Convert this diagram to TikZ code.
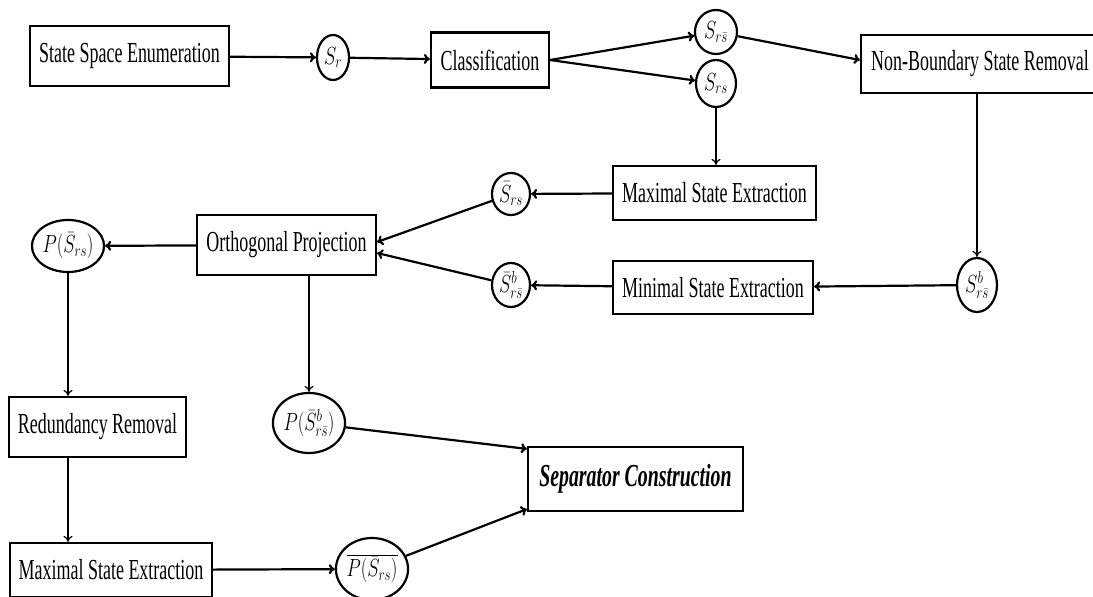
\documentclass[tikz,border=0pt]{standalone}
\usepackage{fontspec}
\setmainfont{Liberation Serif}
\usepackage{graphicx}
\usetikzlibrary{arrows.meta,calc,shapes.geometric}
% condensed text and math inside the nodes
\newcommand{\tx}[1]{\scalebox{0.62}[1]{#1}}
\newcommand{\mx}[1]{\scalebox{0.75}[1]{$#1$}}
\tikzset{
  stagebox/.style={draw, line width=2.2bp, inner sep=0pt,
    font=\fontsize{29bp}{31bp}\selectfont},
  setnode/.style={draw, ellipse, line width=2.2bp, inner sep=0pt,
    font=\fontsize{24bp}{26bp}\selectfont},
  flow/.style={line width=2.2bp, -{To[length=6bp,width=10bp]}},
  thinflow/.style={line width=1.2bp, -{To[length=6bp,width=9bp]}},
}
\begin{document}
\begin{tikzpicture}[x=1bp,y=-1bp]
\useasboundingbox (0,0) rectangle (1093,597);

% processing stages
\node[stagebox, minimum width=199bp, minimum height=60bp] (sse)  at (129.5,56) {\tx{State Space Enumeration}};
\node[stagebox, minimum width=118bp, minimum height=55bp] (cls)  at (490,60)   {\tx{Classification}};
\node[stagebox, minimum width=238bp, minimum height=58bp] (nbsr) at (980,64)   {\tx{Non-Boundary State Removal}};
\node[stagebox, minimum width=203bp, minimum height=54bp] (mxa)  at (714.5,193) {\tx{Maximal State Extraction}};
\node[stagebox, minimum width=200bp, minimum height=53bp] (mnse) at (713,287.5) {\tx{Minimal State Extraction}};
\node[stagebox, minimum width=179bp, minimum height=60bp] (op)   at (286.5,245) {\tx{Orthogonal Projection}};
\node[stagebox, minimum width=177bp, minimum height=60bp] (rr)   at (97.5,427) {\tx{Redundancy Removal}};
\node[stagebox, minimum width=202bp, minimum height=54bp] (mxb)  at (111,570) {\tx{Maximal State Extraction}};
\node[stagebox, minimum width=215bp, minimum height=64bp,
      font=\fontsize{32bp}{34bp}\selectfont\bfseries\itshape] (sep) at (635.5,479) {\tx{Separator Construction}};

% state sets
\node[setnode, minimum width=32bp, minimum height=45bp] (sr)    at (333,57.5)  {\mx{S_r}};
\node[setnode, minimum width=42bp, minimum height=44bp] (srsb)  at (716,32)    {\mx{S_{r\bar{s}}}};
\node[setnode, minimum width=40bp, minimum height=47bp] (srs)   at (716,83.5)  {\mx{S_{rs}}};
\node[setnode, minimum width=38bp, minimum height=42bp] (sbar)  at (511,194)   {\mx{\bar{S}_{rs}}};
\node[setnode, minimum width=38bp, minimum height=44bp] (sbarb) at (511,285)   {\mx{\bar{S}^b_{r\bar{s}}}};
\node[setnode, minimum width=40bp, minimum height=54bp] (sb)    at (977,285)   {\mx{S^b_{r\bar{s}}}};
\node[setnode, minimum width=72bp, minimum height=52bp] (ps)    at (68,246)    {\mx{P(\bar{S}_{rs})}};
\node[setnode, minimum width=70bp, minimum height=60bp] (psb)   at (309,423)   {\mx{P(\bar{S}^b_{r\bar{s}})}};
\node[setnode, minimum width=72bp, minimum height=62bp] (pbar)  at (372,569)   {\mx{\overline{P(\bar{S}_{rs})}}};

% connectors
\draw[flow] (sse) -- (sr);
\draw[flow] (sr) -- (cls);
\draw[flow] (cls.east) -- (srsb);
\draw[flow] (cls.east) -- (srs);
\draw[flow] (srsb) -- ($(nbsr.west)+(0,-4)$);
\draw[thinflow] (srs) -- (srs |- mxa.north);
\draw[flow] (mxa) -- (sbar);
\draw[thinflow] (sb |- nbsr.south) -- (sb);
\draw[flow] (sb) -- (mnse);
\draw[flow] (mnse) -- (sbarb);
\draw[flow] (sbar) -- ($(op.east)+(0,-3)$);
\draw[flow] (sbarb) -- ($(op.east)+(0,8)$);
\draw[flow] (op) -- (ps);
\draw[thinflow] (ps) -- (ps |- rr.north);
\draw[thinflow] (psb |- op.south) -- (psb);
\draw[thinflow] (rr.south -| ps) -- (mxb.north -| ps);
\draw[flow] (mxb) -- (pbar);
\draw[flow] (psb) -- ($(sep.north west)+(0,3)$);
\draw[flow] (pbar) -- ($(sep.south west)+(0,-3)$);
\end{tikzpicture}
\end{document}
